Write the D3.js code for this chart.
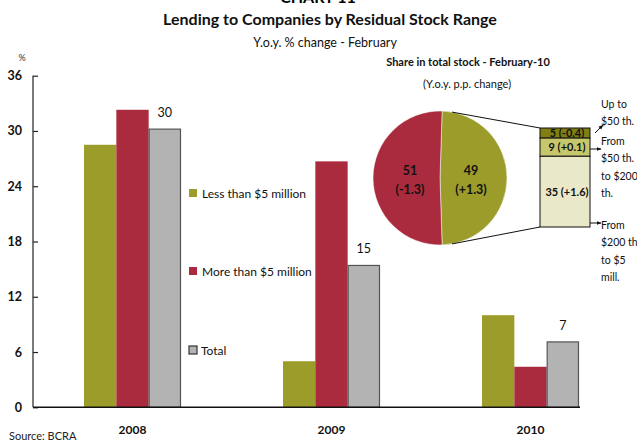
<!DOCTYPE html>
<html><head><meta charset="utf-8">
<script src="https://cdn.jsdelivr.net/npm/d3@7/dist/d3.min.js"></script>
<style>
html,body{margin:0;padding:0;background:#fff;}
svg{display:block;font-family:Lato,"Open Sans",sans-serif;}
</style></head>
<body>
<script>
// ---- data ----
const years = ["2008", "2009", "2010"];
const seriesNames = ["Less than $5 million", "More than $5 million", "Total"];
const lessThan5 = [28.5, 5.0, 10.0];
const moreThan5 = [32.3, 26.7, 4.4];
const totalVals = [30.2, 15.4, 7.1];
const totalLabels = ["30", "15", "7"];
const yTicks = [0, 6, 12, 18, 24, 30, 36];
const pieValues = [49, 51];
const pieChanges = ["+1.3", "-1.3"];
const stackValues = [5, 9, 35];
const stackChanges = ["-0.4", "+0.1", "+1.6"];
const stackNotes = [["Up to", "$50 th."], ["From", "$50 th.", "to $200", "th."], ["From", "$200 th", "to $5", "mill."]];

const colors = ["#9c9c2a", "#a92b3d", "#b3b3b3"];
const stackColors = ["#7f7f12", "#c6c66c", "#e9e9c9"];

const W = 637, H = 443;
const svg = d3.select("body").append("svg").attr("width", W).attr("height", H);

// titles
svg.append("text").attr("x", 318).attr("y", 3).attr("text-anchor", "middle")
  .attr("font-weight", "bold").attr("font-size", 16).text("CHART 11");
svg.append("text").attr("x", 330).attr("y", 25).attr("text-anchor", "middle")
  .attr("font-weight", "bold").attr("font-size", 16).attr("fill", "#111").text("Lending to Companies by Residual Stock Range");
svg.append("text").attr("x", 325).attr("y", 47).attr("text-anchor", "middle")
  .attr("font-size", 12.5).attr("fill", "#111").text("Y.o.y. % change - February");

// scales
const y = d3.scaleLinear().domain([0, 36]).range([407.3, 75.7]);
const x0 = d3.scaleBand().domain(years).range([33, 630]).paddingInner(0.5126).paddingOuter(0.2563);
const x1 = d3.scaleBand().domain(seriesNames).range([0, x0.bandwidth()]);

// y axis
const yAxis = svg.append("g").attr("transform", "translate(33,0)")
  .call(d3.axisRight(y).tickValues(yTicks).tickSize(5).tickFormat(""));
yAxis.select(".domain").attr("stroke", "#222").attr("stroke-width", 1.2).attr("d", `M0,${y(36)}H0V${y(0)}`);
yAxis.selectAll(".tick line").attr("stroke", "#222").attr("stroke-width", 1.2);
svg.append("g").selectAll("text").data(yTicks).join("text")
  .attr("x", 22).attr("y", d => y(d) + 4.5).attr("text-anchor", "end")
  .attr("font-weight", "bold").attr("font-size", 12.5).attr("fill", "#111").text(d => d);
svg.append("text").attr("x", 22).attr("y", 61).attr("text-anchor", "middle")
  .attr("font-size", 9).attr("fill", "#333").text("%");

// bars
const series = [lessThan5, moreThan5, totalVals];
const g = svg.append("g");
years.forEach((yr, i) => {
  series.forEach((s, k) => {
    g.append("rect")
      .attr("x", x0(yr) + x1(seriesNames[k]) + (k === 2 ? 0.5 : 0))
      .attr("y", y(s[i]))
      .attr("width", x1.bandwidth() - (k === 2 ? 1 : 0))
      .attr("height", y(0) - y(s[i]))
      .attr("fill", colors[k])
      .attr("stroke", k === 2 ? "#555" : "none")
      .attr("stroke-width", k === 2 ? 1.2 : 0);
  });
  svg.append("text")
    .attr("x", x0(yr) + x1(seriesNames[2]) + x1.bandwidth() / 2)
    .attr("y", y(totalVals[i]) - 12)
    .attr("text-anchor", "middle").attr("font-size", 12.5).attr("fill", "#111")
    .text(totalLabels[i]);
});

// x axis
const xAxis = svg.append("g").attr("transform", `translate(0,${y(0)})`)
  .call(d3.axisBottom(x0).tickSize(0).tickFormat(""));
xAxis.select(".domain").attr("stroke", "#111").attr("stroke-width", 1.5).attr("d", "M33,0H580");
svg.append("g").selectAll("text").data(years).join("text")
  .attr("x", d => x0(d) + x0.bandwidth() / 2).attr("y", 434)
  .attr("text-anchor", "middle").attr("font-weight", "bold").attr("font-size", 12).attr("fill", "#111")
  .text(d => d);

svg.append("text").attr("x", 9).attr("y", 440).attr("font-size", 11).attr("fill", "#222").text("Source: BCRA");

// legend
const legY = [189, 267, 346];
seriesNames.forEach((n, k) => {
  svg.append("rect").attr("x", 189).attr("y", legY[k]).attr("width", 8).attr("height", 8)
    .attr("fill", colors[k]).attr("stroke", k === 2 ? "#333" : "none").attr("stroke-width", 1.2);
  svg.append("text").attr("x", k === 2 ? 201 : 202).attr("y", legY[k] + 9).attr("font-size", 12).attr("fill", "#111").text(n);
});

// inset: pie
svg.append("text").attr("x", 468).attr("y", 66).attr("text-anchor", "middle")
  .attr("font-weight", "bold").attr("font-size", 11).attr("fill", "#111").text("Share in total stock - February-10");
svg.append("text").attr("x", 467).attr("y", 88).attr("text-anchor", "middle")
  .attr("font-size", 11).attr("fill", "#111").text("(Y.o.y. p.p. change)");

const cx = 440, cy = 178, r = 67;
const pie = d3.pie().sort(null).startAngle(0.01 * Math.PI).endAngle(2.01 * Math.PI);
const arcs = pie(pieValues);
const arc = d3.arc().innerRadius(0).outerRadius(r);
const pg = svg.append("g").attr("transform", `translate(${cx},${cy})`);
pg.selectAll("path").data(arcs).join("path").attr("d", arc)
  .attr("fill", (d, i) => colors[i]).attr("stroke", "#fff").attr("stroke-width", 0.5);
arcs.forEach((a, i) => {
  const px = i === 0 ? 31 : -30;
  pg.append("text").attr("x", px).attr("y", -3).attr("text-anchor", "middle")
    .attr("font-weight", "bold").attr("font-size", 12.5).attr("fill", "#111").text(pieValues[i]);
  pg.append("text").attr("x", px).attr("y", 16).attr("text-anchor", "middle")
    .attr("font-weight", "bold").attr("font-size", 12.5).attr("fill", "#111").text(`(${pieChanges[i]})`);
});

// inset: stacked box
const sy = d3.scaleLinear().domain([0, d3.sum(stackValues)]).range([128, 227]);
const bx = 540, bw = 50;
let acc = 0;
const stackTop = [];
stackValues.forEach(v => { stackTop.push(acc); acc += v; });
stackValues.forEach((v, i) => {
  svg.append("rect").attr("x", bx).attr("y", sy(stackTop[i])).attr("width", bw)
    .attr("height", sy(stackTop[i] + v) - sy(stackTop[i]))
    .attr("fill", stackColors[i]).attr("stroke", "#111").attr("stroke-width", 1);
  const mid = (sy(stackTop[i]) + sy(stackTop[i] + v)) / 2;
  svg.append("text").attr("x", bx + bw / 2 + 2).attr("y", mid + 4).attr("text-anchor", "middle")
    .attr("font-weight", "bold").attr("font-size", 11).attr("fill", "#111")
    .text(`${v} (${stackChanges[i]})`);
});

// connector lines pie -> box
const a1 = 10.3 * Math.PI / 180, a2 = 169.7 * Math.PI / 180;
svg.append("line").attr("x1", cx + r * Math.sin(a1)).attr("y1", cy - r * Math.cos(a1))
  .attr("x2", bx).attr("y2", sy(0)).attr("stroke", "#111").attr("stroke-width", 1);
svg.append("line").attr("x1", cx + r * Math.sin(a2)).attr("y1", cy - r * Math.cos(a2))
  .attr("x2", bx).attr("y2", sy(d3.sum(stackValues))).attr("stroke", "#111").attr("stroke-width", 1);

// arrows & notes
const defs = svg.append("defs");
defs.append("marker").attr("id", "ah").attr("viewBox", "0 0 10 10").attr("refX", 9).attr("refY", 5)
  .attr("markerWidth", 5).attr("markerHeight", 5).attr("orient", "auto")
  .append("path").attr("d", "M0,1L10,5L0,9Z").attr("fill", "#111");
const arrows = [[595, 133, 603, 125], [590, 149, 601, 149], [590, 223, 601, 223]];
arrows.forEach(a => {
  svg.append("line").attr("x1", a[0]).attr("y1", a[1]).attr("x2", a[2]).attr("y2", a[3])
    .attr("stroke", "#111").attr("stroke-width", 1).attr("marker-end", "url(#ah)");
});
const noteY = [108, 145, 229];
stackNotes.forEach((lines, i) => {
  lines.forEach((t, j) => {
    svg.append("text").attr("x", 601).attr("y", noteY[i] + j * 17.3)
      .attr("font-size", 10.5).attr("fill", "#111").text(t);
  });
});
</script>
</body></html>
